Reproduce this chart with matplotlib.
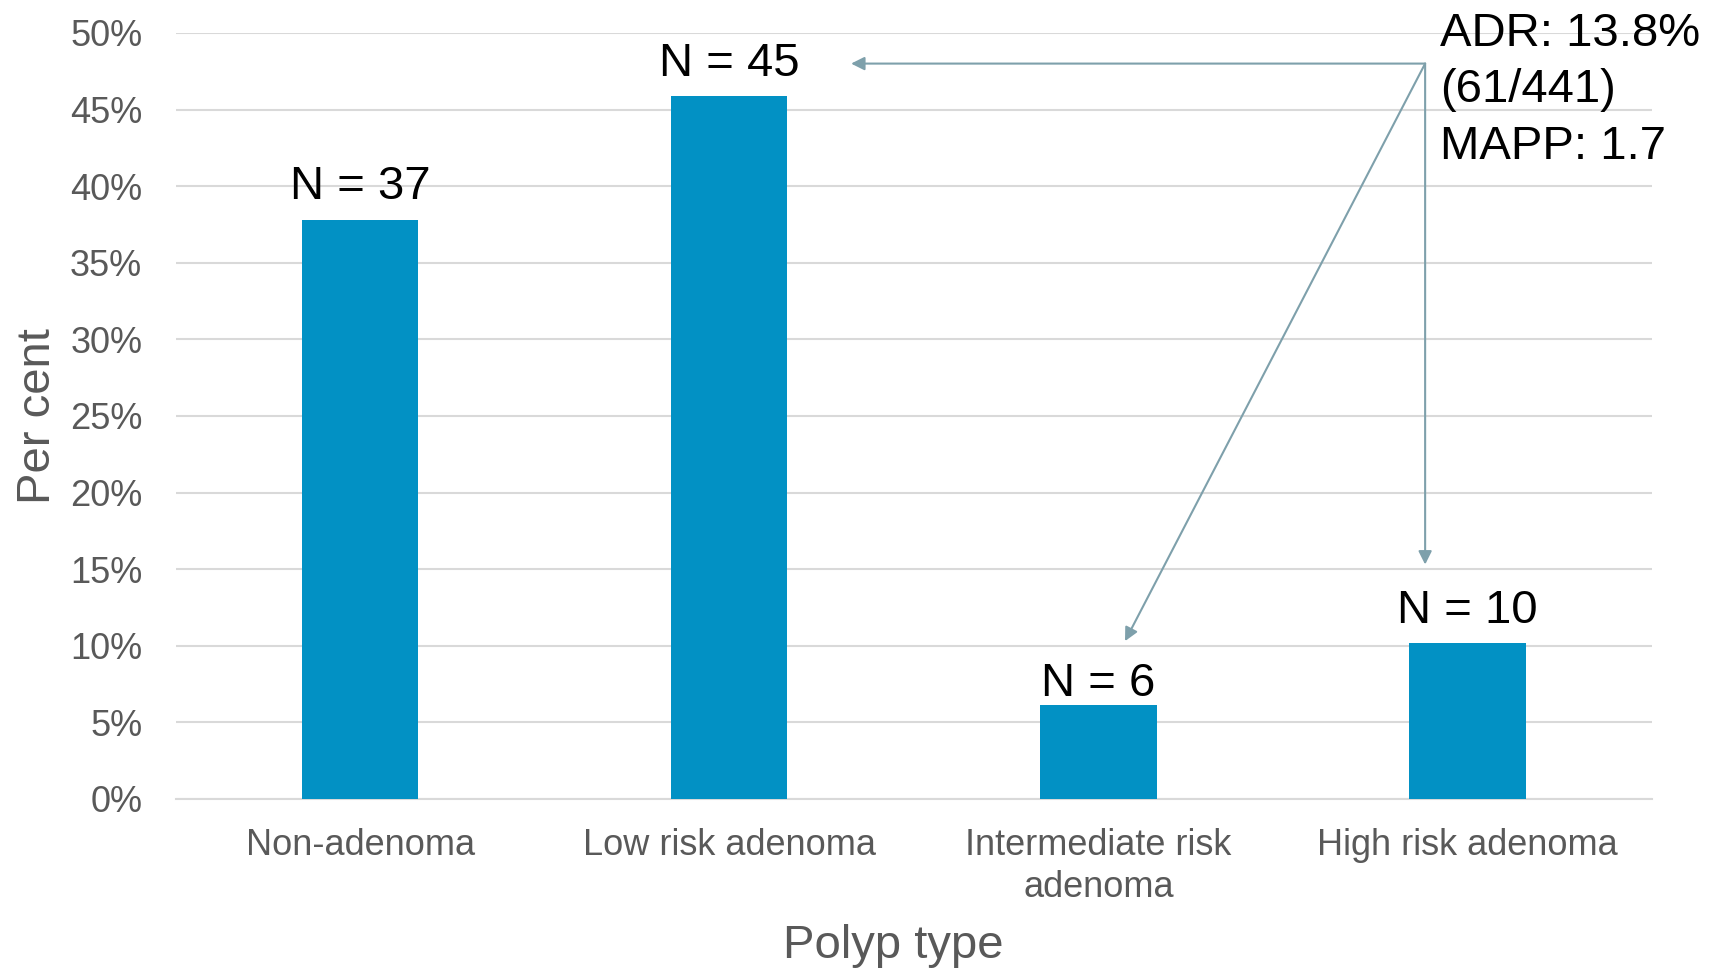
import matplotlib.pyplot as plt
from matplotlib.ticker import MultipleLocator, FuncFormatter

# Data
categories = ['Non-adenoma', 'Low risk adenoma', 'Intermediate risk\nadenoma', 'High risk adenoma']
percent = [37.8, 45.9, 6.1, 10.2]
counts = [37, 45, 6, 10]
label_offsets = [15, 14, 7, 14]  # points above bar top
summary = 'ADR: 13.8%\n(61/441)\nMAPP: 1.7'

bar_color = '#0291C4'
grid_color = '#D9D9D9'
text_gray = '#595959'
arrow_color = '#7EA0AB'

plt.rcParams['font.family'] = ['Liberation Sans', 'DejaVu Sans']

fig = plt.figure(figsize=(17.21, 9.69), dpi=100)
ax = fig.add_axes([0.102, 0.1755, 0.858, 0.7905])

x = range(len(categories))
ax.bar(x, percent, width=0.315, color=bar_color, zorder=3)

for i, (p, n) in enumerate(zip(percent, counts)):
    ax.annotate(f'N = {n}', xy=(i, p), xytext=(0, label_offsets[i]),
                textcoords='offset points', ha='center', va='baseline',
                fontsize=34, color='black', zorder=4)

ax.set_xlim(-0.5, 3.5)
ax.set_ylim(0, 50)
ax.yaxis.set_major_locator(MultipleLocator(5))
ax.yaxis.set_major_formatter(FuncFormatter(lambda v, _: f'{v:.0f}%'))
ax.set_xticks(list(x))
ax.set_xticklabels(categories, linespacing=1.25)
ax.tick_params(axis='both', length=0, labelsize=26, labelcolor=text_gray)
ax.tick_params(axis='x', pad=21)
ax.tick_params(axis='y', pad=24)

ax.grid(axis='y', color=grid_color, linewidth=1.5, zorder=0)
for side in ['top', 'right', 'left']:
    ax.spines[side].set_visible(False)
ax.spines['bottom'].set_color(grid_color)
ax.spines['bottom'].set_linewidth(1.5)

ax.set_xlabel('Polyp type', fontsize=34, color=text_gray)
ax.set_ylabel('Per cent', fontsize=34, color=text_gray)
ax.xaxis.set_label_coords(0.486, -0.163)
ax.yaxis.set_label_coords(-0.0785, 0.5)

# Summary text and arrows
fig.text(1440 / 1721, 1 - 159 / 969, summary, fontsize=34, color='black',
         ha='left', va='baseline', linespacing=1.37)

origin = (2.885, 48.0)
targets = [(1.33, 48.0), (2.072, 10.3), (2.885, 15.3)]
for tgt in targets:
    ax.annotate('', xy=tgt, xytext=origin, annotation_clip=False,
                arrowprops=dict(arrowstyle='-|>', color=arrow_color, lw=1.5,
                                shrinkA=0, shrinkB=0, mutation_scale=20),
                zorder=5)

fig.savefig('out.png', dpi=100)
